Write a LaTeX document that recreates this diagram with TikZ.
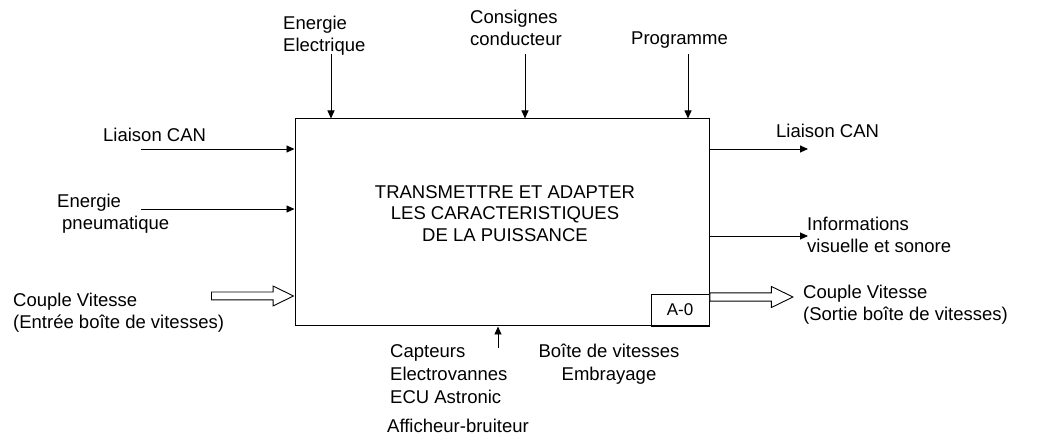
\documentclass[tikz,border=0pt]{standalone}
\usepackage{fontspec}
\setmainfont{Liberation Sans}
\usetikzlibrary{arrows.meta,shapes.arrows}
\begin{document}
\begin{tikzpicture}[x=1pt,y=-1pt,
  lbl/.style={inner sep=0pt, font=\fontsize{18.5}{21.5}\selectfont, align=left},
  flow/.style={line width=0.9pt, -{Triangle[length=8pt,width=7pt]}},
  hollow/.style={single arrow, draw, fill=white, line width=0.9pt, inner sep=3.5pt,
    single arrow head extend=6pt, single arrow tip angle=52, single arrow head indent=0pt}]
\useasboundingbox[fill=white] (0,0) rectangle (1038,443);
% main box
\node[draw, line width=1pt, minimum width=414pt, minimum height=207pt, inner sep=0pt] (box) at (502,222.5) {};
\node[draw, line width=0.9pt, minimum width=58pt, minimum height=32pt, inner sep=0pt, anchor=south east,
  font=\fontsize{17}{20}\selectfont] (a0) at (box.south east) {A-0};
% title
\node[lbl, align=center, anchor=north] (title) at (505,185) {TRANSMETTRE ET ADAPTER\\LES CARACTERISTIQUES\\DE LA PUISSANCE};
% top inputs
\coordinate (t1) at (331,54);
\coordinate (t2) at (525,54);
\coordinate (t3) at (688,54);
\draw[flow] (t1) -- (t1 |- box.north);
\draw[flow] (t2) -- (t2 |- box.north);
\draw[flow] (t3) -- (t3 |- box.north);
\node[lbl, anchor=north west] (lt1) at (283,16) {Energie\\Electrique};
\node[lbl, anchor=north west] (lt2) at (470,10) {Consignes\\conducteur};
\node[lbl, anchor=base west] (lt3) at (631,45) {Programme};
% left inputs
\coordinate (i1) at (141,149);
\coordinate (i2) at (141,209);
\draw[flow] (i1) -- (i1 -| box.west);
\draw[flow] (i2) -- (i2 -| box.west);
\node[lbl, anchor=base west] (li1) at (103,142) {Liaison CAN};
\node[lbl, anchor=north west] (li2) at (57,194) {Energie\\\hspace*{5pt}pneumatique};
% right outputs
\coordinate (o1) at (808,149);
\coordinate (o2) at (808,236);
\draw[flow] (o1 -| box.east) -- (o1);
\draw[flow] (o2 -| box.east) -- (o2);
\node[lbl, anchor=base west] (lo1) at (776,138) {Liaison CAN};
\node[lbl, anchor=north west] (lo2) at (807,217) {Informations\\visuelle et sonore};
% hollow arrows
\node[hollow, minimum height=82pt, minimum width=19pt, anchor=tip] (cvin) at (box.west |- 0,296) {};
\node[hollow, minimum height=83pt, minimum width=21pt, anchor=tail] (cvout) at (box.east |- 0,297) {};
\node[lbl, anchor=north west] (lcvin) at (13,293) {Couple Vitesse\\(Entrée boîte de vitesses)};
\node[lbl, anchor=north west] (lcvout) at (803,285) {Couple Vitesse\\(Sortie boîte de vitesses)};
% bottom mechanism
\coordinate (b1) at (498,348);
\draw[flow] (b1) -- (b1 |- box.south);
\node[lbl, anchor=north west, font=\fontsize{18.5}{23}\selectfont] (lb1) at (390,344) {Capteurs\\Electrovannes\\ECU Astronic};
\node[lbl, anchor=base west] (lb2) at (387,432.5) {Afficheur-bruiteur};
\node[lbl, align=center, anchor=north, font=\fontsize{18.5}{23}\selectfont] (lb3) at (609,344) {Boîte de vitesses\\Embrayage};
\end{tikzpicture}
\end{document}
